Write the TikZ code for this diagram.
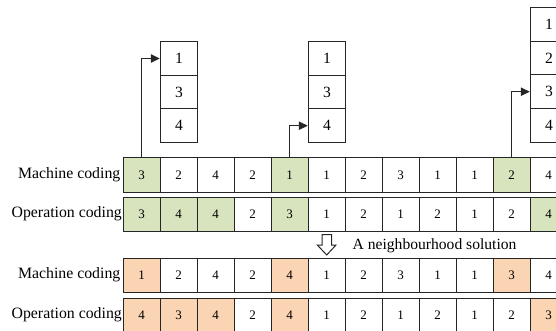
\documentclass[tikz,border=0pt]{standalone}
\usepackage{fontspec}
\setmainfont{Liberation Serif}
\usetikzlibrary{arrows.meta}
\definecolor{cgreen}{HTML}{D7E4BD}
\definecolor{corange}{HTML}{FBD4B4}
\begin{document}
\begin{tikzpicture}[x=1pt,y=-1pt,
  cellbox/.style={draw=black!85,line width=1pt,minimum width=37pt,minimum height=34pt,inner sep=0pt,font=\fontsize{13}{15}\selectfont},
  gcell/.style={fill=cgreen},
  ocell/.style={fill=corange},
  wcell/.style={fill=white},
  stackbox/.style={draw=black!85,line width=1pt,minimum width=37.5pt,minimum height=33.6pt,inner sep=0pt,font=\fontsize{15.6}{18}\selectfont},
  rowlabel/.style={anchor=east,inner sep=0pt,font=\fontsize{15.8}{18}\selectfont},
  pointer/.style={draw=black!85,line width=1pt,-{Triangle[length=9pt,width=8.5pt]}}
]
\useasboundingbox (0,0) rectangle (556,331);
\clip (0,0) rectangle (556,331);
% rows
\foreach \v/\s [count=\i from 0] in {3/gcell,2/wcell,4/wcell,2/wcell,1/gcell,1/wcell,2/wcell,3/wcell,1/wcell,1/wcell,2/gcell,4/wcell}
  \node[cellbox,\s] (ra\i) at ({141.5+37*\i},175) {\v};
\foreach \v/\s [count=\i from 0] in {3/gcell,4/gcell,4/gcell,2/wcell,3/gcell,1/wcell,2/wcell,1/wcell,2/wcell,1/wcell,2/wcell,4/gcell}
  \node[cellbox,\s] (rb\i) at ({141.5+37*\i},214) {\v};
\foreach \v/\s [count=\i from 0] in {1/ocell,2/wcell,4/wcell,2/wcell,4/ocell,1/wcell,2/wcell,3/wcell,1/wcell,1/wcell,3/ocell,4/wcell}
  \node[cellbox,\s] (rc\i) at ({141.5+37*\i},275) {\v};
\foreach \v/\s [count=\i from 0] in {4/ocell,3/ocell,4/ocell,2/wcell,4/ocell,1/wcell,2/wcell,1/wcell,2/wcell,1/wcell,2/wcell,3/ocell}
  \node[cellbox,\s] (rd\i) at ({141.5+37*\i},315) {\v};
% row labels
\node[rowlabel] (la) at (120.5,175) {Machine coding};
\node[rowlabel] (lb) at (122,214) {Operation coding};
\node[rowlabel] (lc) at (120.5,275) {Machine coding};
\node[rowlabel] (ld) at (122,315) {Operation coding};
% stacks
\foreach \v [count=\i from 0] in {1,3,4}
  \node[stackbox] (sa\i) at (179,{58.5+33.6*\i}) {\v};
\foreach \v [count=\i from 0] in {1,3,4}
  \node[stackbox] (sb\i) at (327,{58.5+33.6*\i}) {\v};
\foreach \v [count=\i from 0] in {1,2,3,4}
  \node[stackbox] (sc\i) at (549,{24.5+33.6*\i}) {\v};
% pointers
\draw[pointer] (ra0.north) |- (sa0.west);
\draw[pointer] (ra4.north) |- (sb2.west);
\draw[pointer] (ra10.north) |- (sc2.west);
% neighbourhood arrow
\draw[draw=black!85,line width=1pt,fill=white,line join=miter]
  (322,234.5) -- (331.5,234.5) -- (331.5,245) -- (336,245) -- (326.7,255) -- (317.3,245) -- (322,245) -- cycle;
\node[anchor=west,inner sep=0pt,font=\fontsize{15.6}{18}\selectfont] (nb) at (352.5,246) {A neighbourhood solution};
\end{tikzpicture}
\end{document}
